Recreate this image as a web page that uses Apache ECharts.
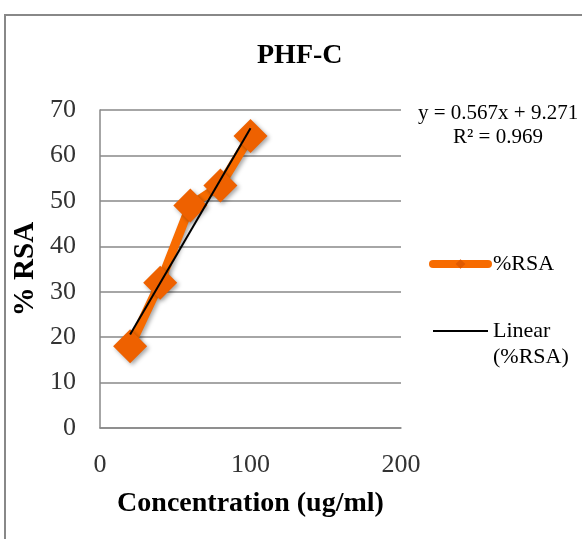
<!DOCTYPE html>
<html>
<head>
<meta charset="utf-8">
<script src="https://cdn.jsdelivr.net/npm/echarts@6/dist/echarts.min.js"></script>
<style>
    html, body { margin: 0; padding: 0; background: #fff; }
    #chart { width: 582px; height: 539px; }
</style>
</head>
<body>
<div id="chart"></div>
<script>
    // 浓度 (ug/ml)
    var concentration = [20, 40, 60, 80, 100];
    // %RSA 测量值
    var rsa = [18, 32, 49, 53.4, 64.3];
    // 线性趋势线两端 (y = 0.567x + 9.271)
    var trendX = [20, 100];
    var trendY = [20.6, 66.0];
    var xTicks = [0, 100, 200];
    var yTicks = [0, 10, 20, 30, 40, 50, 60, 70];

    var serif = '"Liberation Serif", "DejaVu Serif", serif';

    var chart = echarts.init(document.getElementById('chart'), null, { renderer: 'canvas' });

    var option = {
        animation: false,
        backgroundColor: '#fff',
        title: {
            text: 'PHF-C',
            left: 252,
            top: 37,
            textStyle: { fontFamily: serif, fontSize: 28, fontWeight: 'bold', color: '#000' }
        },
        grid: {
            left: 100,
            right: 181,
            top: 110,
            bottom: 111
        },
        legend: {
            orient: 'vertical',
            left: 424,
            top: 246,
            itemGap: 15,
            itemWidth: 55,
            itemHeight: 12,
            textStyle: { fontFamily: serif, fontSize: 22, color: '#000', lineHeight: 26 },
            formatter: function (name) {
                // 趋势线图例：图标对齐第一行
                return name === 'Linear (%RSA)' ? ' \nLinear\n(%RSA)' : name;
            },
            data: [
                {
                    name: '%RSA',
                    lineStyle: { color: '#f76b00', width: 8, cap: 'round' },
                    itemStyle: { color: '#e05a00' }
                },
                {
                    name: 'Linear (%RSA)',
                    lineStyle: { color: '#000', width: 2 },
                    itemStyle: { color: 'rgba(0,0,0,0)', borderWidth: 0, opacity: 0 }
                }
            ]
        },
        xAxis: {
            type: 'value',
            min: xTicks[0],
            max: xTicks[xTicks.length - 1],
            interval: 100,
            name: 'Concentration (ug/ml)',
            nameLocation: 'middle',
            nameGap: 62,
            nameMoveOverlap: false,
            nameTextStyle: { fontFamily: serif, fontSize: 28, fontWeight: 'bold', color: '#000' },
            axisLine: { show: true, lineStyle: { color: '#888', width: 1.5 } },
            axisTick: { show: false },
            axisLabel: { margin: 24, fontFamily: serif, fontSize: 26, color: '#333' },
            splitLine: { show: false }
        },
        yAxis: {
            type: 'value',
            min: yTicks[0],
            max: yTicks[yTicks.length - 1],
            interval: 10,
            name: '% RSA',
            nameLocation: 'middle',
            nameGap: 60,
            nameMoveOverlap: false,
            nameTextStyle: { fontFamily: serif, fontSize: 29, fontWeight: 'bold', color: '#000' },
            axisLine: { show: true, lineStyle: { color: '#888', width: 1.5 } },
            axisTick: { show: false },
            axisLabel: { margin: 24, fontFamily: serif, fontSize: 26, color: '#333' },
            splitLine: { show: true, lineStyle: { color: '#888', width: 1.5 } }
        },
        series: [
            {
                name: '%RSA',
                type: 'line',
                data: concentration.map(function (x, i) { return [x, rsa[i]]; }),
                symbol: 'diamond',
                symbolSize: 34,
                lineStyle: {
                    color: '#f76b00',
                    width: 9,
                    cap: 'round',
                    shadowColor: 'rgba(0,0,0,0.35)',
                    shadowBlur: 4,
                    shadowOffsetX: 2,
                    shadowOffsetY: 2
                },
                itemStyle: {
                    color: '#ee6100',
                    shadowColor: 'rgba(0,0,0,0.35)',
                    shadowBlur: 4,
                    shadowOffsetX: 2,
                    shadowOffsetY: 2
                },
                z: 2
            },
            {
                name: 'Linear (%RSA)',
                type: 'line',
                data: trendX.map(function (x, i) { return [x, trendY[i]]; }),
                symbol: 'none',
                lineStyle: { color: '#000', width: 2 },
                z: 3
            }
        ],
        graphic: [
            {
                type: 'rect',
                shape: { x: 5, y: 15, width: 620, height: 600 },
                style: { fill: 'none', stroke: '#888', lineWidth: 2 },
                silent: true
            },
            {
                type: 'text',
                left: 418,
                top: 103,
                style: { text: 'y = 0.567x + 9.271', font: '21px ' + serif, fill: '#000' }
            },
            {
                type: 'text',
                left: 453,
                top: 127,
                style: { text: 'R² = 0.969', font: '21px ' + serif, fill: '#000' }
            }
        ]
    };

    chart.setOption(option);
</script>
</body>
</html>
